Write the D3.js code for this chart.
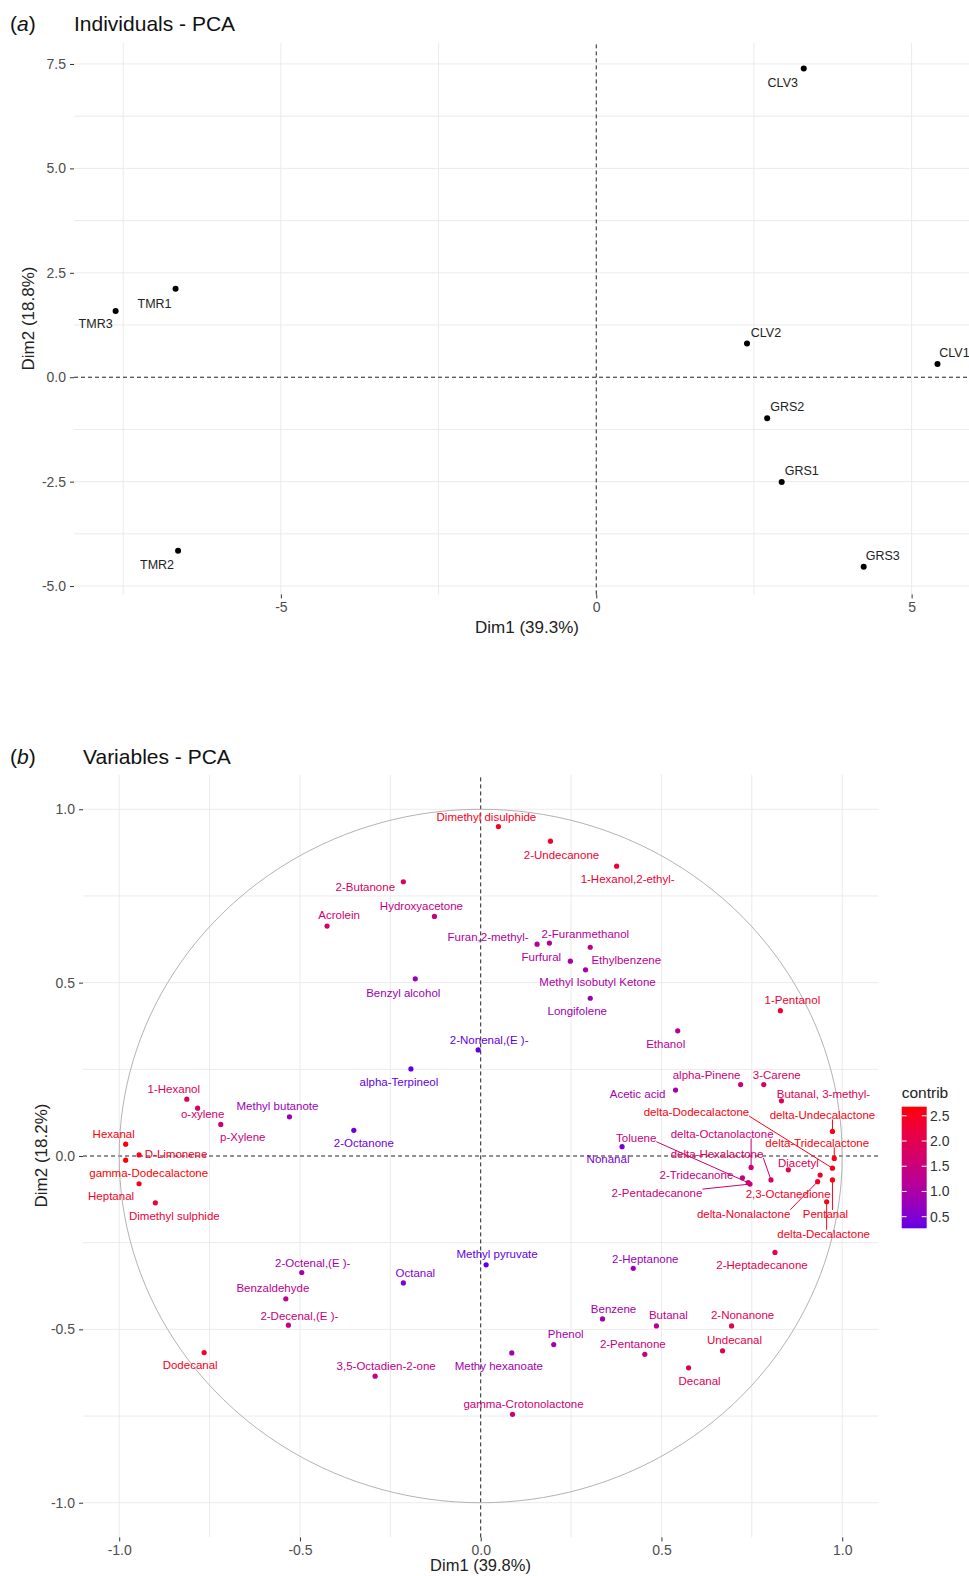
<!DOCTYPE html>
<html lang="en">
<head>
<meta charset="UTF-8">
<script src="https://d3js.org/d3.v7.min.js"></script>
<style>
  body { margin: 0; background: #fff; }
  svg text { font-family: "Liberation Sans", Arial, sans-serif; }
  .tick text { fill: #4d4d4d; font-size: 14px; }
  .tick line { stroke: #333; stroke-width: 1; }
  .grid line { stroke: #ebebeb; stroke-width: 1; }
  .zero { stroke: #222; stroke-width: 1; stroke-dasharray: 4,3; }
</style>
</head>
<body>
<svg id="chart" width="969" height="1576"></svg>
<script>
// ---- (a) individuals
const indNames = ["CLV3", "TMR1", "TMR3", "CLV2", "CLV1", "GRS2", "GRS1", "TMR2", "GRS3"];
const indDim1 = [3.29, -6.67, -7.62, 2.39, 5.41, 2.71, 2.94, -6.63, 4.24];
const indDim2 = [7.39, 2.12, 1.585, 0.81, 0.316, -0.985, -2.51, -4.155, -4.54];

// ---- (b) variables
const varNames = [
  "Dimethyl disulphide", "2-Undecanone", "1-Hexanol,2-ethyl-", "2-Butanone", "Acrolein",
  "Hydroxyacetone", "Furan,2-methyl-", "2-Furanmethanol", "Furfural", "Ethylbenzene",
  "Methyl Isobutyl Ketone", "Benzyl alcohol", "Longifolene", "1-Pentanol", "2-Nonenal,(E )-",
  "Ethanol", "alpha-Terpineol", "alpha-Pinene", "3-Carene", "Acetic acid",
  "Butanal, 3-methyl-", "1-Hexanol", "o-xylene", "Methyl butanote", "p-Xylene",
  "Hexanal", "2-Octanone", "D-Limonene", "gamma-Dodecalactone", "Heptanal",
  "Dimethyl sulphide", "delta-Dodecalactone", "delta-Undecalactone", "delta-Octanolactone", "Toluene",
  "delta-Tridecalactone", "delta-Hexalactone", "Nonanal", "Diacetyl", "2-Tridecanone",
  "2-Pentadecanone", "2,3-Octanedione", "delta-Nonalactone", "Pentanal", "delta-Decalactone",
  "2-Octenal,(E )-", "Methyl pyruvate", "2-Heptanone", "2-Heptadecanone", "Octanal",
  "Benzaldehyde", "2-Decenal,(E )-", "Benzene", "Butanal", "2-Nonanone",
  "Phenol", "2-Pentanone", "Undecanal", "Dodecanal", "3,5-Octadien-2-one",
  "Methy hexanoate", "Decanal", "gamma-Crotonolactone"
];
const varDim1 = [
  0.049, 0.193, 0.376, -0.214, -0.425,
  -0.128, 0.156, 0.190, 0.248, 0.303,
  0.290, -0.181, 0.303, 0.829, -0.007,
  0.545, -0.193, 0.719, 0.783, 0.539,
  0.832, -0.813, -0.783, -0.529, -0.719,
  -0.982, -0.351, -0.945, -0.982, -0.945,
  -0.900, 0.973, 0.973, 0.748, 0.740,
  0.978, 0.803, 0.391, 0.851, 0.724,
  0.745, 0.939, 0.932, 0.973, 0.957,
  -0.495, 0.015, 0.422, 0.814, -0.214,
  -0.539, -0.532, 0.337, 0.486, 0.694,
  0.202, 0.454, 0.669, -0.765, -0.292,
  0.086, 0.575, 0.088
];
const varDim2 = [
  0.950, 0.908, 0.836, 0.791, 0.663,
  0.691, 0.611, 0.614, 0.562, 0.602,
  0.537, 0.511, 0.455, 0.419, 0.306,
  0.361, 0.251, 0.206, 0.206, 0.190,
  0.159, 0.164, 0.138, 0.113, 0.091,
  0.034, 0.074, 0.003, -0.012, -0.080,
  -0.135, -0.035, 0.071, -0.033, -0.077,
  -0.007, -0.069, 0.027, -0.040, -0.063,
  -0.081, -0.055, -0.074, -0.069, -0.132,
  -0.336, -0.314, -0.324, -0.278, -0.366,
  -0.412, -0.488, -0.470, -0.490, -0.490,
  -0.544, -0.572, -0.562, -0.567, -0.635,
  -0.568, -0.611, -0.745
];
const varContrib = [
  2.48, 2.36, 2.30, 1.84, 1.70,
  1.35, 1.09, 1.13, 1.03, 1.24,
  1.02, 0.80, 0.82, 2.36, 0.27,
  1.17, 0.28, 1.53, 1.79, 0.89,
  1.96, 1.88, 1.73, 0.80, 1.44,
  2.66, 0.35, 2.44, 2.68, 2.46,
  2.27, 2.59, 2.61, 1.53, 1.52,
  2.62, 1.78, 0.42, 1.99, 1.44,
  1.54, 2.42, 2.39, 2.60, 2.55,
  0.98, 0.28, 0.77, 2.03, 0.49,
  1.26, 1.43, 0.92, 1.30, 1.98,
  0.92, 1.46, 2.09, 2.48, 1.34,
  0.90, 1.93, 1.54
];

// ---- tick labels
const indXTicks = [-5, 0, 5];
const indYTicks = [-5, -2.5, 0, 2.5, 5, 7.5];
const varTicks = [-1, -0.5, 0, 0.5, 1];
const contribTicks = [0.5, 1, 1.5, 2, 2.5];

// label placement (pixel nudges, like ggrepel output)
const indNudge = {
  CLV3: [-21, 14], TMR1: [-21, 15], TMR3: [-20, 13], CLV2: [19, -11], CLV1: [17, -11],
  GRS2: [20, -12], GRS1: [20, -11], TMR2: [-21, 14], GRS3: [19, -11]
};
const varNudge = {
  "Dimethyl disulphide": [-12, -10], "2-Undecanone": [11, 14], "1-Hexanol,2-ethyl-": [11, 13],
  "2-Butanone": [-38, 5], "Acrolein": [12, -11], "Hydroxyacetone": [-13, -10],
  "Furan,2-methyl-": [-49, -7], "2-Furanmethanol": [36, -9], "Furfural": [-29, -4],
  "Ethylbenzene": [36, 13], "Methyl Isobutyl Ketone": [12, 12], "Benzyl alcohol": [-12, 14],
  "Longifolene": [-13, 13], "1-Pentanol": [12, -11], "2-Nonenal,(E )-": [11, -10],
  "Ethanol": [-12, 13], "alpha-Terpineol": [-12, 13], "alpha-Pinene": [-34, -10],
  "3-Carene": [13, -10], "Acetic acid": [-38, 4], "Butanal, 3-methyl-": [42, -7],
  "1-Hexanol": [-13, -10], "o-xylene": [5, 6], "Methyl butanote": [-12, -11],
  "p-Xylene": [22, 13], "Hexanal": [-12, -10], "2-Octanone": [10, 13],
  "D-Limonene": [37, -1], "gamma-Dodecalactone": [23, 13], "Heptanal": [-28, 12],
  "Dimethyl sulphide": [19, 13], "delta-Dodecalactone": [-136, -56], "delta-Undecalactone": [-10, -16],
  "delta-Octanolactone": [-29, -33], "Toluene": [-112, -45], "delta-Tridecalactone": [-17, -15],
  "delta-Hexalactone": [-54, -26], "Nonanal": [-14, 12], "Diacetyl": [10, -7],
  "2-Tridecanone": [-46, -3], "2-Pentadecanone": [-93, 9], "2,3-Octanedione": [-32, 19],
  "delta-Nonalactone": [-74, 32], "Pentanal": [-7, 34], "delta-Decalactone": [-3, 32],
  "2-Octenal,(E )-": [11, -10], "Methyl pyruvate": [11, -11], "2-Heptanone": [12, -9],
  "2-Heptadecanone": [-13, 13], "Octanal": [12, -10], "Benzaldehyde": [-13, -11],
  "2-Decenal,(E )-": [11, -9], "Benzene": [11, -10], "Butanal": [12, -11],
  "2-Nonanone": [11, -11], "Phenol": [12, -11], "2-Pentanone": [-12, -10],
  "Undecanal": [12, -11], "Dodecanal": [-14, 12], "3,5-Octadien-2-one": [11, -10],
  "Methy hexanoate": [-13, 13], "Decanal": [11, 13], "gamma-Crotonolactone": [11, -10]
};
const withSegment = new Set(["delta-Dodecalactone", "delta-Undecalactone", "delta-Octanolactone",
  "Toluene", "delta-Tridecalactone", "delta-Hexalactone", "2-Pentadecanone",
  "delta-Nonalactone", "Pentanal", "delta-Decalactone"]);

const svg = d3.select("#chart");
const fmt1 = d => d.toFixed(1);

// helper: title with italic letter
function panelTitle(y, letter, text, x) {
  const t = svg.append("text").attr("x", 10).attr("y", y).attr("font-size", 21).attr("fill", "#111");
  t.append("tspan").text("(");
  t.append("tspan").attr("font-style", "italic").text(letter);
  t.append("tspan").text(")");
  svg.append("text").attr("x", x).attr("y", y).attr("font-size", 21).attr("fill", "#111").text(text);
}

function gridAndAxes(x, y, xMajor, yMajor, xFmt, yFmt) {
  const [x0, x1] = x.range(), [y0, y1] = y.range();
  const mids = a => a.slice(1).map((v, i) => (v + a[i]) / 2);
  const step = a => a[1] - a[0];
  const ext = (a, dom) => {
    const s = step(a), out = [];
    for (let v = a[0] - s / 2; v >= dom[0]; v -= s) out.push(v);
    for (let v = a[a.length - 1] + s / 2; v <= dom[1]; v += s) out.push(v);
    return out;
  };
  const xs = xMajor.concat(mids(xMajor), ext(xMajor, x.domain())).filter(v => v !== 0);
  const ys = yMajor.concat(mids(yMajor), ext(yMajor, y.domain())).filter(v => v !== 0);
  const g = svg.append("g").attr("class", "grid");
  g.selectAll(".gx").data(xs).join("line")
    .attr("x1", d => x(d)).attr("x2", d => x(d)).attr("y1", y0).attr("y2", y1);
  g.selectAll(".gy").data(ys).join("line")
    .attr("y1", d => y(d)).attr("y2", d => y(d)).attr("x1", x0).attr("x2", x1);

  svg.append("g").attr("transform", `translate(0,${y0})`)
    .call(d3.axisBottom(x).tickValues(xMajor).tickSize(4).tickPadding(4).tickFormat(xFmt))
    .call(a => a.select(".domain").remove());
  svg.append("g").attr("transform", `translate(${x0},0)`)
    .call(d3.axisLeft(y).tickValues(yMajor).tickSize(4).tickPadding(4).tickFormat(yFmt))
    .call(a => a.select(".domain").remove());

  // zero lines
  svg.append("line").attr("class", "zero").attr("x1", x(0)).attr("x2", x(0)).attr("y1", y0).attr("y2", y1);
  svg.append("line").attr("class", "zero").attr("y1", y(0)).attr("y2", y(0)).attr("x1", x0).attr("x2", x1);
}

// ================= Panel (a) =================
panelTitle(31, "a", "Individuals - PCA", 74);
const xA = d3.scaleLinear().domain([-8.28, 6.1]).range([74, 981]);
const yA = d3.scaleLinear().domain([-5.2, 8.0]).range([594.4, 43.1]);
gridAndAxes(xA, yA, indXTicks, indYTicks, d => String(d), fmt1);

const ind = indNames.map((n, i) => ({ name: n, x: indDim1[i], y: indDim2[i] }));
svg.append("g").selectAll("circle").data(ind).join("circle")
  .attr("cx", d => xA(d.x)).attr("cy", d => yA(d.y)).attr("r", 3).attr("fill", "#000");
svg.append("g").selectAll("text").data(ind).join("text")
  .attr("x", d => xA(d.x) + indNudge[d.name][0])
  .attr("y", d => yA(d.y) + indNudge[d.name][1])
  .attr("dy", "0.35em").attr("text-anchor", "middle")
  .attr("font-size", 12.5).attr("fill", "#222").text(d => d.name);

svg.append("text").attr("x", 527).attr("y", 627).attr("dy", "0.35em").attr("text-anchor", "middle")
  .attr("font-size", 17).attr("fill", "#222").text("Dim1 (39.3%)");
svg.append("text").attr("transform", "translate(28,318.5) rotate(-90)").attr("dy", "0.35em")
  .attr("text-anchor", "middle").attr("font-size", 17).attr("fill", "#222").text("Dim2 (18.8%)");

// ================= Panel (b) =================
panelTitle(764, "b", "Variables - PCA", 83);
const xB = d3.scaleLinear().domain([-1.1, 1.1]).range([83.05, 878.35]);
const yB = d3.scaleLinear().domain([-1.1, 1.1]).range([1537.4, 774.6]);
gridAndAxes(xB, yB, varTicks, varTicks, fmt1, fmt1);

// correlation circle
const angles = d3.range(0, 361, 2).map(a => a * Math.PI / 180);
svg.append("path").datum(angles)
  .attr("d", d3.line().x(a => xB(Math.cos(a))).y(a => yB(Math.sin(a))))
  .attr("fill", "none").attr("stroke", "#b3b3b3").attr("stroke-width", 1);

const cMax = d3.max(varContrib);
const color = d3.scaleSequential(d3.interpolateLab("blue", "red")).domain([0, cMax]);

const vars = varNames.map((n, i) => ({ name: n, x: varDim1[i], y: varDim2[i], c: varContrib[i] }));
const segG = svg.append("g");
svg.append("g").selectAll("circle").data(vars).join("circle")
  .attr("cx", d => xB(d.x)).attr("cy", d => yB(d.y)).attr("r", 2.6).attr("fill", d => color(d.c));
const labels = svg.append("g").selectAll("text").data(vars).join("text")
  .attr("x", d => xB(d.x) + varNudge[d.name][0])
  .attr("y", d => yB(d.y) + varNudge[d.name][1])
  .attr("dy", "0.35em").attr("text-anchor", "middle")
  .attr("font-size", 11.5).attr("fill", d => color(d.c)).text(d => d.name);

labels.each(function (d) {
  if (!withSegment.has(d.name)) return;
  const b = this.getBBox();
  const px = xB(d.x), py = yB(d.y);
  const sx = Math.max(b.x, Math.min(px, b.x + b.width));
  const sy = Math.max(b.y + 2, Math.min(py, b.y + b.height - 2));
  segG.append("line").attr("x1", sx).attr("y1", sy).attr("x2", px).attr("y2", py)
    .attr("stroke", color(d.c)).attr("stroke-width", 1);
});

svg.append("text").attr("x", 480.5).attr("y", 1565).attr("dy", "0.35em").attr("text-anchor", "middle")
  .attr("font-size", 16.5).attr("fill", "#222").text("Dim1 (39.8%)");
svg.append("text").attr("transform", "translate(40.7,1155.5) rotate(-90)").attr("dy", "0.35em")
  .attr("text-anchor", "middle").attr("font-size", 17).attr("fill", "#222").text("Dim2 (18.2%)");

// ---- legend
const cExt = d3.extent(varContrib);
const lg = d3.scaleLinear().domain(cExt).range([1228.3, 1106.7]);
const grad = svg.append("defs").append("linearGradient").attr("id", "cbar")
  .attr("x1", 0).attr("x2", 0).attr("y1", 1).attr("y2", 0);
d3.range(0, 1.0001, 0.05).forEach(t => {
  grad.append("stop").attr("offset", t).attr("stop-color", color(cExt[0] + t * (cExt[1] - cExt[0])));
});
svg.append("text").attr("x", 901.7).attr("y", 1098).attr("font-size", 15.5).attr("fill", "#222").text("contrib");
svg.append("rect").attr("x", 901.7).attr("y", lg(cExt[1])).attr("width", 25)
  .attr("height", lg(cExt[0]) - lg(cExt[1])).attr("fill", "url(#cbar)");
const lt = svg.append("g");
contribTicks.forEach(v => {
  lt.append("line").attr("x1", 901.7).attr("x2", 906.7).attr("y1", lg(v)).attr("y2", lg(v)).attr("stroke", "#fff");
  lt.append("line").attr("x1", 921.7).attr("x2", 926.7).attr("y1", lg(v)).attr("y2", lg(v)).attr("stroke", "#fff");
  lt.append("text").attr("x", 930).attr("y", lg(v)).attr("dy", "0.35em")
    .attr("font-size", 14).attr("fill", "#333").text(fmt1(v));
});
</script>
</body>
</html>
